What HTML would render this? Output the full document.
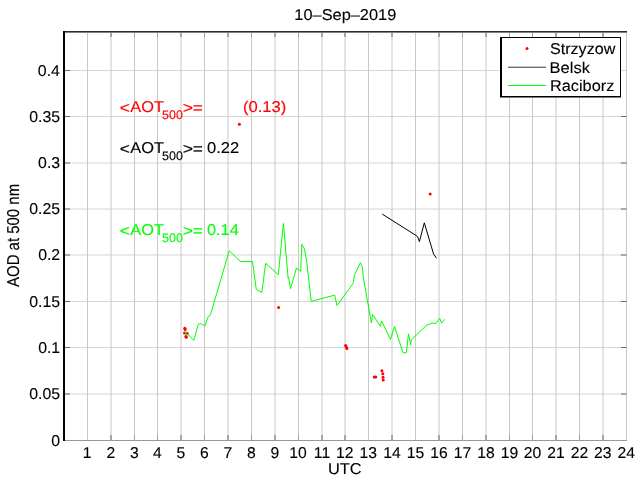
<!DOCTYPE html><html><head><meta charset="utf-8"><style>html,body{margin:0;padding:0;background:#fff;width:640px;height:480px;overflow:hidden}svg{display:block}text{font-family:"Liberation Sans",Arial,Helvetica,sans-serif;text-rendering:geometricPrecision;stroke-width:0.12px}</style></head><body>
<svg width="640" height="480" viewBox="0 0 640 480">
<rect width="640" height="480" fill="#fff"/>
<path d="M64.00 394.00H626.50M64.00 347.50H626.50M64.00 301.50H626.50M64.00 255.00H626.50M64.00 209.00H626.50M64.00 163.00H626.50M64.00 116.50H626.50M64.00 70.50H626.50" stroke="#d5d5d5" stroke-width="1" fill="none"/>
<path d="M87.50 32H87.50V440M111.00 32H111.00V440M134.50 32H134.50V440M157.50 32H157.50V440M181.00 32H181.00V440M204.50 32H204.50V440M228.00 32H228.00V440M251.50 32H251.50V440M275.00 32H275.00V440M298.50 32H298.50V440M322.00 32H322.00V440M345.00 32H345.00V440M368.50 32H368.50V440M392.00 32H392.00V440M415.50 32H415.50V440M439.00 32H439.00V440M462.50 32H462.50V440M486.00 32H486.00V440M509.50 32H509.50V440M532.50 32H532.50V440M556.00 32H556.00V440M579.50 32H579.50V440M603.00 32H603.00V440M626.50 32H626.50V440" stroke="#c8c8c8" stroke-width="1" fill="none"/>
<path d="M134.50 435V440M134.50 33V37M157.50 435V440M157.50 33V37M204.50 435V440M204.50 33V37M251.50 435V440M251.50 33V37M298.50 435V440M298.50 33V37M462.50 435V440M462.50 33V37M509.50 435V440M509.50 33V37M532.50 435V440M532.50 33V37M579.50 435V440M579.50 33V37" stroke="#a0a0a0" stroke-width="1" fill="none"/>
<path d="M111.00 435V440M111.00 33V37M181.00 435V440M181.00 33V37M228.00 435V440M228.00 33V37M275.00 435V440M275.00 33V37M322.00 435V440M322.00 33V37M345.00 435V440M345.00 33V37M392.00 435V440M392.00 33V37M439.00 435V440M439.00 33V37M486.00 435V440M486.00 33V37M556.00 435V440M556.00 33V37M603.00 435V440M603.00 33V37M65 394.00H70M626.50 394.00H621.00M65 347.50H70M626.50 347.50H621.00M65 301.50H70M626.50 301.50H621.00M65 255.00H70M626.50 255.00H621.00M65 209.00H70M626.50 209.00H621.00M65 163.00H70M626.50 163.00H621.00M65 116.50H70M626.50 116.50H621.00M65 70.50H70" stroke="#6a6a6a" stroke-width="1" fill="none"/>
<rect x="64" y="440" width="563" height="1" fill="#999"/>
<rect x="63" y="31" width="564" height="1" fill="#2b2b2b"/>
<rect x="63" y="32" width="564" height="1" fill="#808080"/>
<rect x="63" y="31" width="2" height="410" fill="#000"/>
<text transform="translate(51.24 445.85) scale(1.0160 1)" font-size="15.6" stroke="#000">0</text>
<text transform="translate(29.21 399.35) scale(1.0160 1)" font-size="15.6" stroke="#000">0.05</text>
<text transform="translate(38.16 352.85) scale(1.0160 1)" font-size="15.6" stroke="#000">0.1</text>
<text transform="translate(29.21 306.85) scale(1.0160 1)" font-size="15.6" stroke="#000">0.15</text>
<text transform="translate(38.16 260.35) scale(1.0160 1)" font-size="15.6" stroke="#000">0.2</text>
<text transform="translate(29.21 214.35) scale(1.0160 1)" font-size="15.6" stroke="#000">0.25</text>
<text transform="translate(38.08 168.35) scale(1.0160 1)" font-size="15.6" stroke="#000">0.3</text>
<text transform="translate(29.21 121.85) scale(1.0160 1)" font-size="15.6" stroke="#000">0.35</text>
<text transform="translate(37.84 75.85) scale(1.0160 1)" font-size="15.6" stroke="#000">0.4</text>
<text transform="translate(82.85 457.80) scale(1.0064 1)" font-size="15.6" stroke="#000">1</text>
<text transform="translate(106.54 457.80) scale(1.0064 1)" font-size="15.6" stroke="#000">2</text>
<text transform="translate(130.08 457.80) scale(1.0064 1)" font-size="15.6" stroke="#000">3</text>
<text transform="translate(153.08 457.80) scale(1.0064 1)" font-size="15.6" stroke="#000">4</text>
<text transform="translate(176.54 457.80) scale(1.0064 1)" font-size="15.6" stroke="#000">5</text>
<text transform="translate(200.00 457.80) scale(1.0064 1)" font-size="15.6" stroke="#000">6</text>
<text transform="translate(223.54 457.80) scale(1.0064 1)" font-size="15.6" stroke="#000">7</text>
<text transform="translate(247.00 457.80) scale(1.0064 1)" font-size="15.6" stroke="#000">8</text>
<text transform="translate(270.54 457.80) scale(1.0064 1)" font-size="15.6" stroke="#000">9</text>
<text transform="translate(289.37 457.80) scale(1.0064 1)" font-size="15.6" stroke="#000">10</text>
<text transform="translate(322.00 457.8) scale(1.0064 1)" font-size="15.6" text-anchor="middle" stroke="#000">11</text>
<text transform="translate(335.99 457.80) scale(1.0064 1)" font-size="15.6" stroke="#000">12</text>
<text transform="translate(359.41 457.80) scale(1.0064 1)" font-size="15.6" stroke="#000">13</text>
<text transform="translate(392.00 457.8) scale(1.0064 1)" font-size="15.6" text-anchor="middle" stroke="#000">14</text>
<text transform="translate(415.50 457.8) scale(1.0064 1)" font-size="15.6" text-anchor="middle" stroke="#000">15</text>
<text transform="translate(439.00 457.8) scale(1.0064 1)" font-size="15.6" text-anchor="middle" stroke="#000">16</text>
<text transform="translate(462.50 457.8) scale(1.0064 1)" font-size="15.6" text-anchor="middle" stroke="#000">17</text>
<text transform="translate(486.00 457.8) scale(1.0064 1)" font-size="15.6" text-anchor="middle" stroke="#000">18</text>
<text transform="translate(509.50 457.8) scale(1.0064 1)" font-size="15.6" text-anchor="middle" stroke="#000">19</text>
<text transform="translate(532.50 457.8) scale(1.0064 1)" font-size="15.6" text-anchor="middle" stroke="#000">20</text>
<text transform="translate(556.00 457.8) scale(1.0064 1)" font-size="15.6" text-anchor="middle" stroke="#000">21</text>
<text transform="translate(579.50 457.8) scale(1.0064 1)" font-size="15.6" text-anchor="middle" stroke="#000">22</text>
<text transform="translate(594.11 457.80) scale(1.0064 1)" font-size="15.6" stroke="#000">23</text>
<text transform="translate(617.49 457.80) scale(1.0064 1)" font-size="15.6" stroke="#000">24</text>
<text transform="translate(327.97 473.70) scale(1.0508 1)" font-size="15.6" stroke="#000">UTC</text>
<text transform="translate(294.37 19.60) scale(1.0490 1)" font-size="15.6" stroke="#000">10&#8211;Sep&#8211;2019</text>
<text transform="translate(18.9 286.97) rotate(-90) scale(0.9649 1.1103)" font-size="15.5" stroke="#000">AOD at 500 nm</text>
<circle cx="239.4" cy="124.3" r="1.5" fill="#f00"/>
<circle cx="278.6" cy="307.6" r="1.5" fill="#f00"/>
<circle cx="345.6" cy="345.6" r="1.5" fill="#f00"/>
<circle cx="346.25" cy="347" r="1.5" fill="#f00"/>
<circle cx="346.9" cy="348.5" r="1.5" fill="#f00"/>
<circle cx="374.25" cy="377" r="1.5" fill="#f00"/>
<circle cx="375.75" cy="377" r="1.5" fill="#f00"/>
<circle cx="381.9" cy="370.75" r="1.5" fill="#f00"/>
<circle cx="382.75" cy="373.75" r="1.5" fill="#f00"/>
<circle cx="383" cy="377.25" r="1.5" fill="#f00"/>
<circle cx="383.25" cy="380" r="1.5" fill="#f00"/>
<circle cx="430.2" cy="193.9" r="1.5" fill="#f00"/>
<circle cx="184.8" cy="328.3" r="1.5" fill="#f00"/>
<circle cx="185.2" cy="329.6" r="1.5" fill="#f00"/>
<circle cx="184.5" cy="333.0" r="1.5" fill="#f00"/>
<circle cx="187.2" cy="333.6" r="1.5" fill="#f00"/>
<circle cx="185.9" cy="336.5" r="1.5" fill="#f00"/>
<circle cx="186.3" cy="337.3" r="1.5" fill="#f00"/>
<polyline points="382.2,214.1 417.5,236.4 419.4,241.6 424.3,222.8 433.6,254.1 436.5,258.2" fill="none" stroke="#000" stroke-width="1"/>
<polyline points="185.05,331.4 185.96,334.4 188.9,335.1 193.7,340.4 195.4,335.3 196.3,331.2 198.3,324.3 200.7,323.6 202.9,324.7 204.75,326.3 208.2,316.6 210.4,314.9 229.25,250.8 240.5,261.6 252.5,261.6 256.25,289.5 261.9,292.5 265.6,263.25 278.3,274.7 283.4,223.4 288.1,278 288.6,277 290.5,288.75 296.5,268 300.7,271.3 301.8,244.3 304.4,248.9 306.7,261.6 311.25,301.4 334.7,295.1 337,305.6 353.1,283.4 354.5,274.8 360.4,262.7 362.3,266.9 363.4,278.1 371.4,323 372.6,314.5 380.4,326.3 381.6,320.9 390.5,339.5 394.5,326.4 402.9,352.6 406.3,352.9 408.5,333.8 409.7,339.7 410.7,345.2 411.1,340 427.2,324.7 428,324.9 431.9,323.1 436,323.4 439.7,318.4 441.6,323.1 444.7,319.4" fill="none" stroke="#0f0" stroke-width="1"/>
<text transform="translate(119.73 113.15) scale(1.1102 1)" font-size="15.6" fill="#f00" stroke="#f00">&lt;</text><text transform="translate(130.22 111.95) scale(1.0515 1)" font-size="15.6" fill="#f00" stroke="#f00">AOT</text><text transform="translate(162.00 119.25) scale(1.0093 1)" font-size="12.4" fill="#f00" stroke="#f00">500</text><text transform="translate(182.71 113.15) scale(1.1367 1)" font-size="15.6" fill="#f00" stroke="#f00">&gt;</text><text transform="translate(192.73 113.15) scale(1.1102 1)" font-size="15.6" fill="#f00" stroke="#f00">=</text>
<text transform="translate(242.90 111.95) scale(1.0658 1)" font-size="15.6" fill="#f00" stroke="#f00">(0.13)</text>
<text transform="translate(119.73 154.20) scale(1.1102 1)" font-size="15.6" fill="#000" stroke="#000">&lt;</text><text transform="translate(130.22 153.00) scale(1.0515 1)" font-size="15.6" fill="#000" stroke="#000">AOT</text><text transform="translate(162.00 160.30) scale(1.0093 1)" font-size="12.4" fill="#000" stroke="#000">500</text><text transform="translate(182.71 154.20) scale(1.1367 1)" font-size="15.6" fill="#000" stroke="#000">&gt;</text><text transform="translate(192.73 154.20) scale(1.1102 1)" font-size="15.6" fill="#000" stroke="#000">=</text><text transform="translate(206.94 153.00) scale(1.0609 1)" font-size="15.6" fill="#000" stroke="#000">0.22</text>
<text transform="translate(119.73 236.10) scale(1.1102 1)" font-size="15.6" fill="#0f0" stroke="#0f0">&lt;</text><text transform="translate(130.22 234.90) scale(1.0515 1)" font-size="15.6" fill="#0f0" stroke="#0f0">AOT</text><text transform="translate(162.00 242.20) scale(1.0093 1)" font-size="12.4" fill="#0f0" stroke="#0f0">500</text><text transform="translate(182.71 236.10) scale(1.1367 1)" font-size="15.6" fill="#0f0" stroke="#0f0">&gt;</text><text transform="translate(192.73 236.10) scale(1.1102 1)" font-size="15.6" fill="#0f0" stroke="#0f0">=</text><text transform="translate(206.95 234.90) scale(1.0496 1)" font-size="15.6" fill="#0f0" stroke="#0f0">0.14</text>
<rect x="500" y="37" width="121" height="60" fill="#fff"/>
<rect x="500" y="37" width="2" height="60" fill="#000"/>
<rect x="500" y="37" width="121" height="1" fill="#000"/>
<rect x="620" y="37" width="1" height="60" fill="#000"/>
<rect x="500" y="96" width="121" height="1.5" fill="#000"/>
<circle cx="527" cy="48.6" r="1.5" fill="#f00"/>
<rect x="508" y="66" width="38" height="1" fill="#c4c4c4"/>
<rect x="508" y="67" width="38" height="1" fill="#707070"/>
<rect x="508" y="85" width="38" height="1" fill="#0f0"/>
<text transform="translate(549.97 53.75) scale(1.0330 1)" font-size="15.6" stroke="#000">Strzyzow</text>
<text transform="translate(549.58 72.60) scale(1.0571 1)" font-size="15.6" stroke="#000">Belsk</text>
<text transform="translate(549.94 90.80) scale(1.0460 1)" font-size="15.6" stroke="#000">Raciborz</text>
</svg></body></html>
